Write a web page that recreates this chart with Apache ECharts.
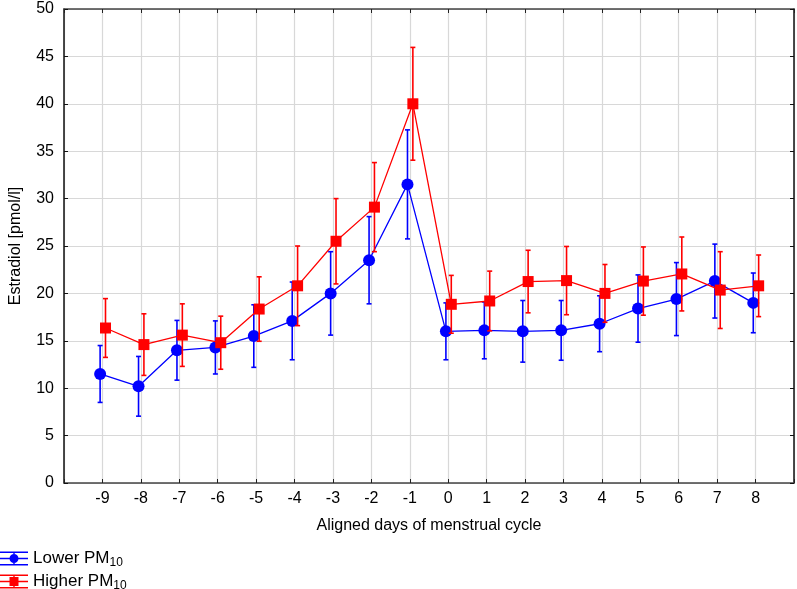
<!DOCTYPE html>
<html>
<head>
<meta charset="utf-8">
<script src="https://cdn.jsdelivr.net/npm/echarts@6/dist/echarts.min.js"></script>
<style>html,body{margin:0;padding:0;background:#fff}#c{width:797px;height:589px}</style>
</head>
<body>
<div id="c"></div>
<script>
const days = [-9,-8,-7,-6,-5,-4,-3,-2,-1,0,1,2,3,4,5,6,7,8];
const lowerMean = [11.5,10.2,14.0,14.3,15.5,17.1,20.0,23.5,31.5,16.0,16.1,16.0,16.1,16.8,18.4,19.4,21.3,19.0];
const lowerErr  = [3.0,3.15,3.15,2.8,3.3,4.1,4.4,4.6,5.75,3.0,3.0,3.25,3.15,2.95,3.55,3.85,3.9,3.15];
const higherMean = [16.35,14.6,15.6,14.8,18.35,20.8,25.5,29.1,40.0,18.85,19.2,21.25,21.35,20.0,21.3,22.05,20.35,20.8];
const higherErr  = [3.1,3.25,3.3,2.8,3.4,4.2,4.5,4.7,5.95,3.05,3.15,3.3,3.6,3.05,3.6,3.9,4.05,3.25];
const yTicks = [0,5,10,15,20,25,30,35,40,45,50];

const BLUE = '#0000ff', RED = '#ff0000';
const lowerOffset = -0.06, higherOffset = 0.08;
const FONT = '"Liberation Sans", Arial, sans-serif';

function pts(mean, off){ return days.map((d,i)=>[d+off, mean[i]]); }
function errs(mean, err, off){ return days.map((d,i)=>[d+off, mean[i]-err[i], mean[i]+err[i]]); }

function errRender(color){
  return function(params, api){
    const x = api.value(0);
    const lo = api.coord([x, api.value(1)]);
    const hi = api.coord([x, api.value(2)]);
    const cap = 2.5;
    const st = {stroke: color, lineWidth: 1.6};
    return {type:'group', children:[
      {type:'line', shape:{x1:lo[0], y1:lo[1], x2:hi[0], y2:hi[1]}, style:st},
      {type:'line', shape:{x1:lo[0]-cap, y1:lo[1], x2:lo[0]+cap, y2:lo[1]}, style:st},
      {type:'line', shape:{x1:hi[0]-cap, y1:hi[1], x2:hi[0]+cap, y2:hi[1]}, style:st}
    ]};
  };
}

const iconBase = 'M0 0H28V1.4H0Z M0 12.6H28V14H0Z M0 6.3H28V7.7H0Z M13.3 0H14.7V14H13.3Z ';
const iconCircle = iconBase + 'M18.5 7A4.5 4.5 0 1 1 9.5 7A4.5 4.5 0 1 1 18.5 7Z';
const iconSquare = iconBase + 'M9.5 2.5H18.5V11.5H9.5Z';

function legendFor(name, icon, color, top){
  return {
    orient: 'vertical', left: 0, top: top, padding: 0, itemWidth: 28, itemHeight: 14,
    data: [{name: name, icon: 'path://' + icon, itemStyle:{color: color}}],
    formatter: function(n){ return '{a|' + n + ' PM}{s|10}'; },
    textStyle: {
      color: '#000', fontFamily: FONT,
      rich: {
        a: {fontSize: 17, fontFamily: FONT, color:'#000'},
        s: {fontSize: 12, fontFamily: FONT, color:'#000', padding: [8,0,0,0]}
      }
    }
  };
}

const chart = echarts.init(document.getElementById('c'));
chart.setOption({
  animation: false,
  backgroundColor: '#fff',
  textStyle: {fontFamily: FONT},
  grid: {left: 59, right: 1, top: 9, bottom: 106, containLabel: false},
  legend: [
    legendFor('Lower', iconCircle, BLUE, 550),
    legendFor('Higher', iconSquare, RED, 573)
  ],
  xAxis: [{
    type: 'value', min: -10, max: 9, interval: 1, position: 'bottom',
    name: 'Aligned days of menstrual cycle', nameLocation: 'middle', nameGap: 35,
    nameTextStyle: {fontSize: 16, color: '#000', fontFamily: FONT},
    axisLine: {show: true, onZero: false, lineStyle: {color: '#444', width: 1.5}},
    axisTick: {show: true, inside: true, length: 4, lineStyle: {color: '#222'}},
    axisLabel: {fontSize: 16, color: '#000', margin: 8, fontFamily: FONT,
      formatter: v => (v === -10 || v === 9) ? '' : String(v)},
    splitLine: {show: true, lineStyle: {color: '#d8d8d8', width: 1.2}}
  },{
    type: 'value', min: -10, max: 9, interval: 1, position: 'top',
    axisLine: {show: true, onZero: false, lineStyle: {color: '#444', width: 1.5}},
    axisTick: {show: true, inside: true, length: 4, lineStyle: {color: '#222'}},
    axisLabel: {show: false}, splitLine: {show: false}
  }],
  yAxis: [{
    type: 'value', min: 0, max: 50, interval: 5, position: 'left',
    name: 'Estradiol [pmol/l]', nameLocation: 'middle', nameGap: 40,
    nameTextStyle: {fontSize: 16, color: '#000', fontFamily: FONT},
    axisLine: {show: true, onZero: false, lineStyle: {color: '#111', width: 1.5}},
    axisTick: {show: true, inside: true, length: 4, lineStyle: {color: '#111'}},
    axisLabel: {fontSize: 16, color: '#000', margin: 10, fontFamily: FONT,
      formatter: v => yTicks.includes(v) ? String(v) : ''},
    splitLine: {show: true, lineStyle: {color: '#d8d8d8', width: 1.2}}
  },{
    type: 'value', min: 0, max: 50, interval: 5, position: 'right',
    axisLine: {show: true, onZero: false, lineStyle: {color: '#111', width: 1.5}},
    axisTick: {show: true, inside: true, length: 4, lineStyle: {color: '#111'}},
    axisLabel: {show: false}, splitLine: {show: false}
  }],
  series: [
    {type: 'custom', name: 'LowerErr', renderItem: errRender(BLUE), data: errs(lowerMean, lowerErr, lowerOffset), z: 2, encode:{x:0, y:[1,2]}},
    {type: 'line', name: 'Lower', data: pts(lowerMean, lowerOffset), color: BLUE,
      symbol: 'circle', symbolSize: 12, lineStyle: {color: BLUE, width: 1.3}, itemStyle: {color: BLUE}, z: 3},
    {type: 'custom', name: 'HigherErr', renderItem: errRender(RED), data: errs(higherMean, higherErr, higherOffset), z: 4, encode:{x:0, y:[1,2]}},
    {type: 'line', name: 'Higher', data: pts(higherMean, higherOffset), color: RED,
      symbol: 'rect', symbolSize: 11, lineStyle: {color: RED, width: 1.3}, itemStyle: {color: RED}, z: 5}
  ]
});
</script>
</body>
</html>
